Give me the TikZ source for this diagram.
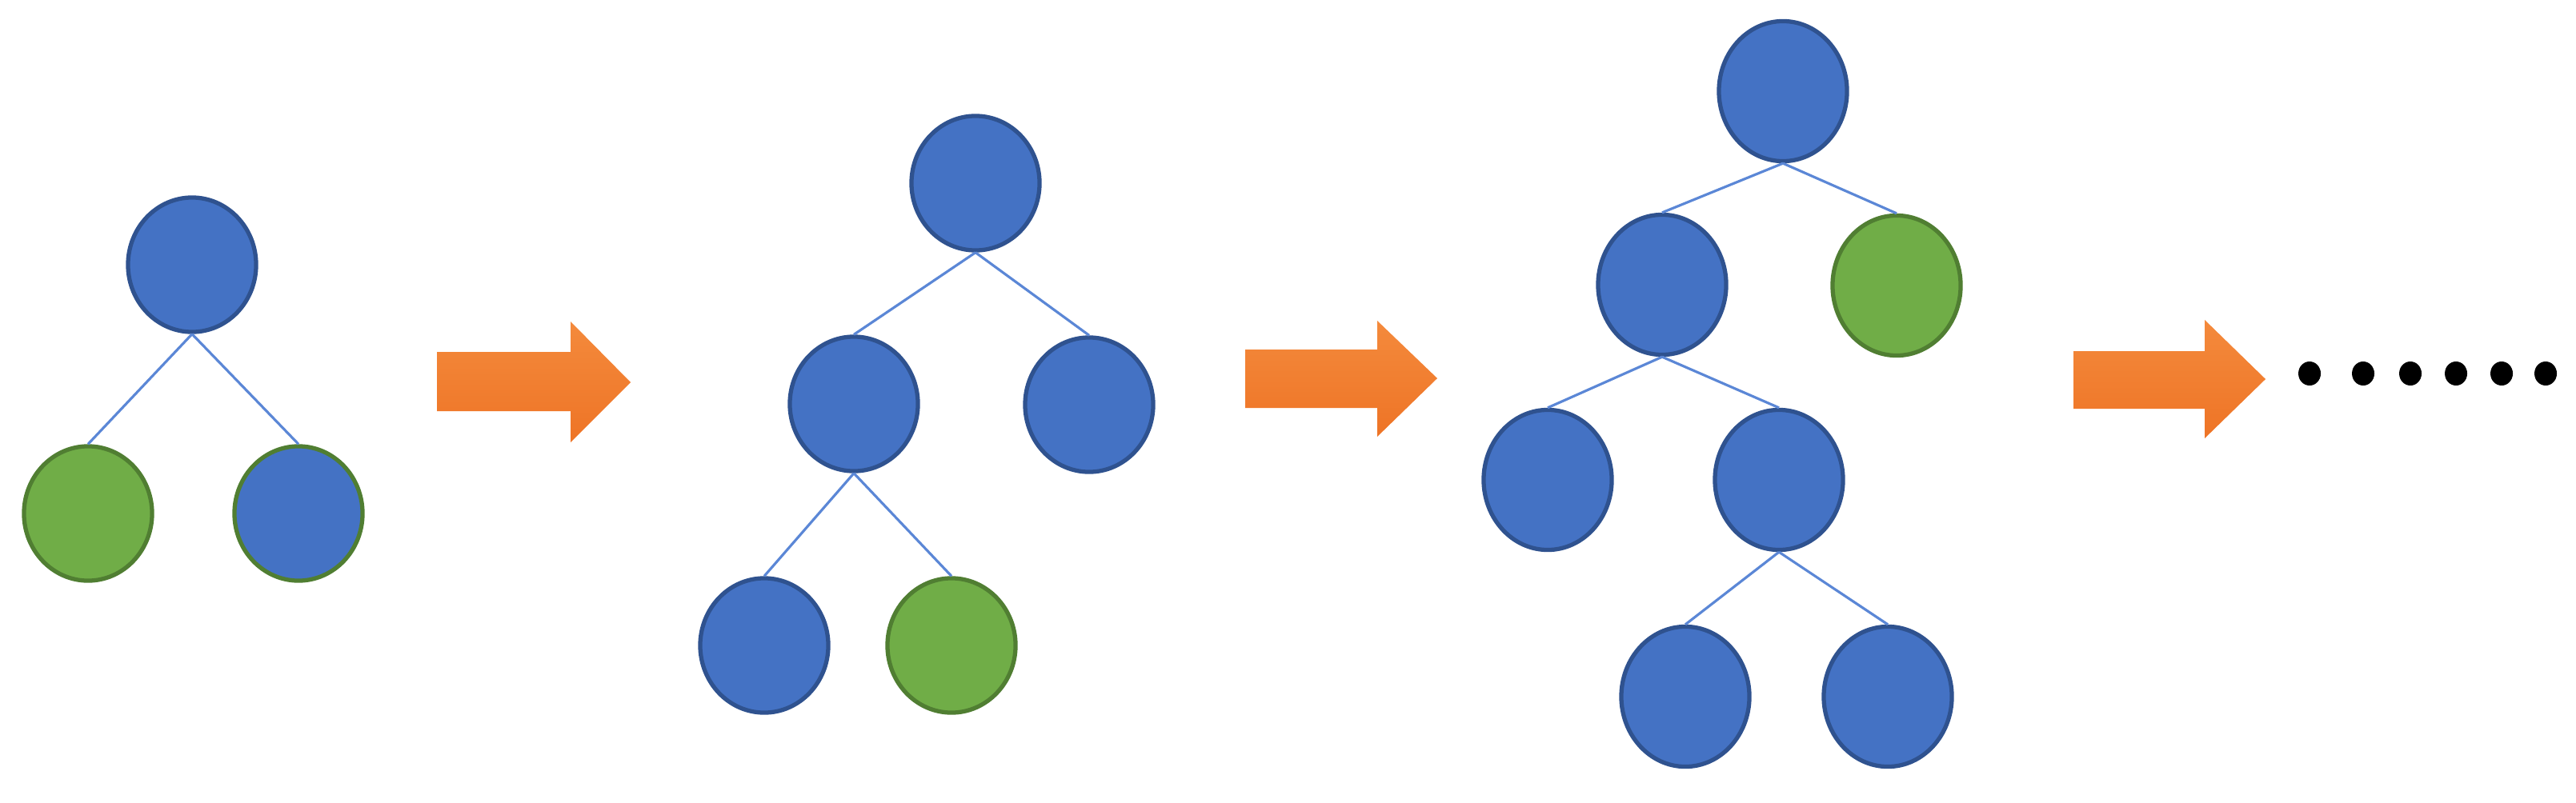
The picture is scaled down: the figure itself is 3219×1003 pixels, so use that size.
\documentclass[tikz,border=0pt]{standalone}
\usetikzlibrary{shapes.geometric}
\definecolor{nblue}{HTML}{4472C4}
\definecolor{nblueb}{HTML}{2F528F}
\definecolor{ngreen}{HTML}{70AD47}
\definecolor{ngreenb}{HTML}{507E32}
\definecolor{edgec}{HTML}{5B87D6}
\definecolor{arrtop}{HTML}{F48A3C}
\definecolor{arrbot}{HTML}{EE7426}
\tikzset{
  tnode/.style={ellipse, inner sep=0pt, minimum width=1.6cm, minimum height=1.68cm, line width=1.5pt},
  bnode/.style={tnode, fill=nblue, draw=nblueb},
  gnode/.style={tnode, fill=ngreen, draw=ngreenb},
  bgnode/.style={tnode, fill=nblue, draw=ngreenb},
  tall/.style={minimum height=1.75cm},
  link/.style={draw=edgec, line width=0.9pt},
  bigarrow/.style={top color=arrtop, bottom color=arrbot, draw=none},
  dotmark/.style={ellipse, fill=black, inner sep=0pt, minimum width=0.28cm, minimum height=0.30cm}
}
\begin{document}
\begin{tikzpicture}[x=0.01cm,y=-0.01cm]
\useasboundingbox (0,0) rectangle (3219,1003);
% Tree 1
\node[bnode] (a1) at (240,331) {};
\node[gnode] (a2) at (110,642) {};
\node[bgnode] (a3) at (373,642) {};
\draw[link] (a1.south) -- (a2.north);
\draw[link] (a1.south) -- (a3.north);
% Arrow 1
\path[bigarrow] (546,440) -- (713,440) -- (713,402) -- (788,478) -- (713,553) -- (713,514) -- (546,514) -- cycle;
% Tree 2
\node[bnode] (b1) at (1219,229) {};
\node[bnode] (b2) at (1067,505) {};
\node[bnode] (b3) at (1361,506) {};
\node[bnode] (b4) at (955,807) {};
\node[gnode] (b5) at (1189,807) {};
\draw[link] (b1.south) -- (b2.north);
\draw[link] (b1.south) -- (b3.north);
\draw[link] (b2.south) -- (b4.north);
\draw[link] (b2.south) -- (b5.north);
% Arrow 2
\path[bigarrow] (1556,437) -- (1721,437) -- (1721,401) -- (1796,473) -- (1721,546) -- (1721,510) -- (1556,510) -- cycle;
% Tree 3
\node[bnode,tall] (c1) at (2228,114) {};
\node[bnode,tall] (c2) at (2077,356) {};
\node[gnode,tall] (c3) at (2370,357) {};
\node[bnode,tall] (c4) at (1934,600) {};
\node[bnode,tall] (c5) at (2223,600) {};
\node[bnode,tall] (c6) at (2106,871) {};
\node[bnode,tall] (c7) at (2359,871) {};
\draw[link] (c1.south) -- (c2.north);
\draw[link] (c1.south) -- (c3.north);
\draw[link] (c2.south) -- (c4.north);
\draw[link] (c2.south) -- (c5.north);
\draw[link] (c5.south) -- (c6.north);
\draw[link] (c5.south) -- (c7.north);
% Arrow 3
\path[bigarrow] (2591,439) -- (2755,439) -- (2755,400) -- (2831,474) -- (2755,548) -- (2755,511) -- (2591,511) -- cycle;
% Dots
\node[dotmark] (d1) at (2886,467) {};
\node[dotmark] (d2) at (2953,467) {};
\node[dotmark] (d3) at (3012,467) {};
\node[dotmark] (d4) at (3069,467) {};
\node[dotmark] (d5) at (3126,467) {};
\node[dotmark] (d6) at (3181,467) {};
\end{tikzpicture}
\end{document}
